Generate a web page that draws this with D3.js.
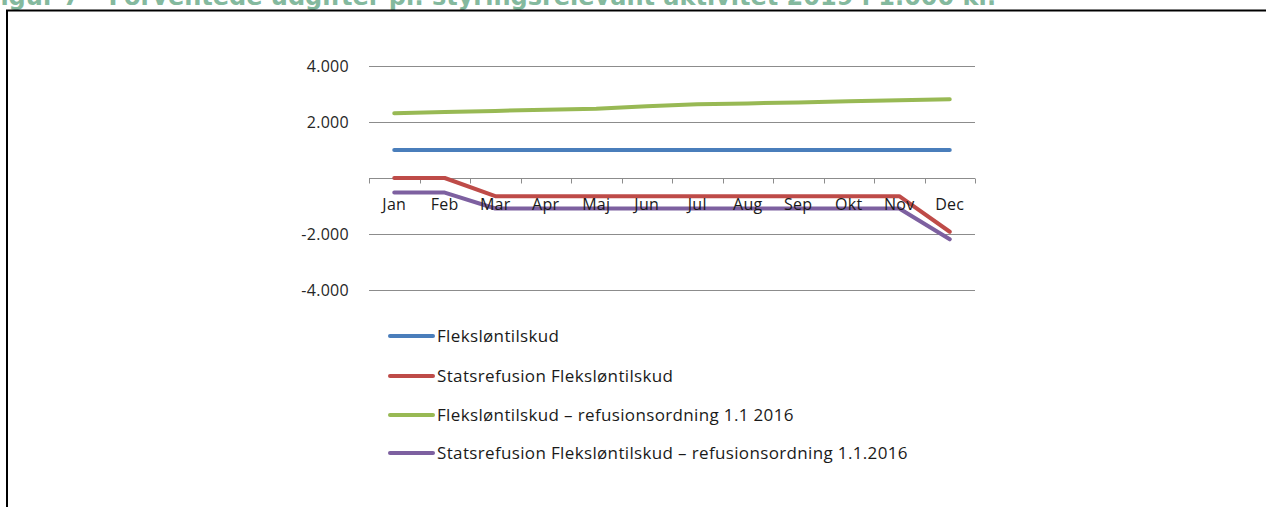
<!DOCTYPE html>
<html>
<head>
<meta charset="utf-8">
<script src="https://cdnjs.cloudflare.com/ajax/libs/d3/7.8.5/d3.min.js"></script>
<style>
  body { margin: 0; background: #fff; }
  text { font-family: "Open Sans", "Noto Sans", sans-serif; }
</style>
</head>
<body>
<script>
var months = ["Jan", "Feb", "Mar", "Apr", "Maj", "Jun", "Jul", "Aug", "Sep", "Okt", "Nov", "Dec"];
var flekslon = [1000, 1000, 1000, 1000, 1000, 1000, 1000, 1000, 1000, 1000, 1000, 1000];
var statsref = [0, 0, -650, -650, -650, -650, -650, -650, -650, -650, -650, -1920];
var flekslonNy = [2310, 2355, 2395, 2440, 2475, 2565, 2630, 2665, 2700, 2740, 2775, 2810];
var statsrefNy = [-520, -520, -1090, -1090, -1090, -1090, -1090, -1090, -1090, -1090, -1090, -2190];
var seriesNames = ["Fleksløntilskud", "Statsrefusion Fleksløntilskud",
  "Fleksløntilskud – refusionsordning 1.1 2016",
  "Statsrefusion Fleksløntilskud – refusionsordning 1.1.2016"];
var seriesColors = ["#4a7ebb", "#be4b48", "#98b954", "#7d60a0"];
var yTicks = [-4000, -2000, 0, 2000, 4000];

var W = 1266, H = 507;
var svg = d3.select("body").append("svg")
    .attr("width", W)
    .attr("height", H);

// title, cut off by the top of the page (as in the original)
svg.append("text")
    .attr("x", -16)
    .attr("y", 5)
    .style("font-family", "'DejaVu Sans', sans-serif")
    .style("font-weight", "bold")
    .style("font-size", "24px")
    .style("fill", "#84b99e")
    .text("Figur 7 – Forventede udgifter pr. styringsrelevant aktivitet 2019 i 1.000 kr.");

// frame
svg.append("line").attr("x1", 6).attr("x2", W).attr("y1", 10.5).attr("y2", 10.5)
    .attr("stroke", "#000").attr("stroke-width", 2);
svg.append("line").attr("x1", 7).attr("x2", 7).attr("y1", 10).attr("y2", H)
    .attr("stroke", "#000").attr("stroke-width", 2);

var x = d3.scaleBand().domain(months).range([369, 975]);
var y = d3.scaleLinear().domain([-4000, 4000]).range([290, 66]);

var fmt = function(d) { return d3.format(",")(d).replace(/,/g, ".").replace("−", "-"); };

// gridlines
svg.append("g").selectAll("line")
    .data(yTicks.filter(function(d) { return d !== 0; }))
    .enter().append("line")
    .attr("x1", 369).attr("x2", 975)
    .attr("y1", function(d) { return Math.round(y(d)) + 0.5; })
    .attr("y2", function(d) { return Math.round(y(d)) + 0.5; })
    .attr("stroke", "#8c8c8c")
    .attr("stroke-width", 1);

// y labels
svg.append("g").selectAll("text")
    .data(yTicks.filter(function(d) { return d !== 0; }))
    .enter().append("text")
    .attr("x", 349)
    .attr("y", function(d) { return y(d) + 6; })
    .attr("text-anchor", "end")
    .style("font-size", "16px")
    .style("letter-spacing", "0.3px")
    .style("fill", "#262626")
    .text(fmt);

// x axis with ticks between categories
var xAxis = svg.append("g")
    .attr("transform", "translate(0," + (Math.round(y(0)) + 0.5) + ")");
xAxis.append("line").attr("x1", 369).attr("x2", 975)
    .attr("stroke", "#8c8c8c");
xAxis.selectAll(".tk")
    .data(months.concat(["end"]))
    .enter().append("line")
    .attr("x1", function(d, i) { return Math.round(369 + i * x.bandwidth()) + 0.5; })
    .attr("x2", function(d, i) { return Math.round(369 + i * x.bandwidth()) + 0.5; })
    .attr("y1", 0).attr("y2", 5)
    .attr("stroke", "#8c8c8c");

var line = d3.line()
    .x(function(d, i) { return x(months[i]) + x.bandwidth() / 2; })
    .y(function(d) { return y(d); });

var allSeries = [flekslon, statsref, flekslonNy, statsrefNy];

[0, 2, 3, 1].forEach(function(k) {
  svg.append("path")
      .datum(allSeries[k])
      .attr("d", line)
      .attr("fill", "none")
      .attr("stroke", seriesColors[k])
      .attr("stroke-width", 4)
      .attr("stroke-linecap", "round")
      .attr("stroke-linejoin", "round");
});

// category labels (on top of the lines)
svg.append("g").selectAll("text")
    .data(months)
    .enter().append("text")
    .attr("x", function(d) { return x(d) + x.bandwidth() / 2; })
    .attr("y", 210)
    .attr("text-anchor", "middle")
    .style("font-size", "16px")
    .style("letter-spacing", "0.3px")
    .style("fill", "#1a1a1a")
    .text(function(d) { return d; });

// legend
var legY = [336, 376, 415, 453];
var leg = svg.append("g").selectAll("g")
    .data(seriesNames)
    .enter().append("g")
    .attr("transform", function(d, i) { return "translate(0," + legY[i] + ")"; });
leg.append("line")
    .attr("x1", 390).attr("x2", 433)
    .attr("y1", 0).attr("y2", 0)
    .attr("stroke", function(d, i) { return seriesColors[i]; })
    .attr("stroke-width", 4)
    .attr("stroke-linecap", "round");
leg.append("text")
    .attr("x", 437)
    .attr("y", 6)
    .style("font-size", "17px")
    .style("letter-spacing", "0.35px")
    .style("fill", "#1a1a1a")
    .text(function(d) { return d; });
</script>
</body>
</html>
